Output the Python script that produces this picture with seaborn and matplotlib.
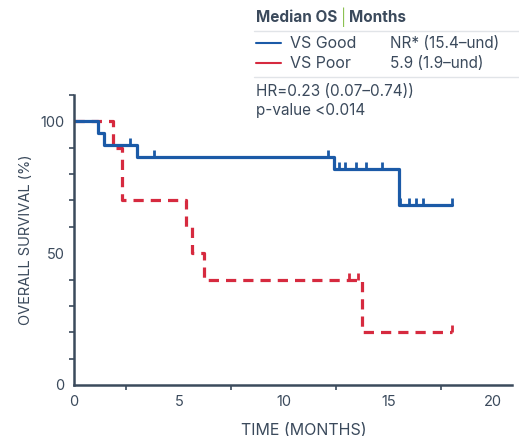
import numpy as np
import pandas as pd
import seaborn as sns
import matplotlib.pyplot as plt
from matplotlib.ticker import MultipleLocator

# KM step data
good_time = [0, 1.13, 1.45, 2.99, 12.4, 15.5, 18.05]
good_surv = [100, 95.5, 91.0, 86.5, 82.0, 68.3, 68.3]
good_cens = [2.67, 3.8, 12.1, 12.62, 12.94, 13.46, 13.92, 14.69,
             15.56, 15.96, 16.32, 16.64, 18.05]

poor_time = [0, 1.88, 2.3, 5.33, 5.62, 6.2, 13.76, 18.05]
poor_surv = [100, 90.0, 70.0, 60.0, 50.0, 40.0, 20.0, 20.0]
poor_cens = [13.14, 13.57, 18.05]

legend_names = ["VS Good", "VS Poor"]
legend_medians = ["NR* (15.4\u2013und)", "5.9 (1.9\u2013und)"]
hr_text = "HR=0.23 (0.07\u20130.74))"
p_text = "p-value <0.014"

BLUE = "#1b5aa7"
RED = "#d62a3f"
INK = "#3b4a5c"

sns.set_theme(style="white")
plt.rcParams["font.family"] = ["Inter", "DejaVu Sans"]

fig = plt.figure(figsize=(5.19, 4.36), dpi=100)
ax = fig.add_axes([0.1426, 0.117, 0.844, 0.665])


def surv_at(times, surv, t):
    i = np.searchsorted(times, t, side="right") - 1
    return np.array(surv)[i]


poor = pd.DataFrame({"t": poor_time, "s": poor_surv})
good = pd.DataFrame({"t": good_time, "s": good_surv})

sns.lineplot(data=poor, x="t", y="s", drawstyle="steps-post", estimator=None,
             sort=False, color=RED, lw=2.3, ax=ax,
             linestyle=(0, (3.2, 2.2)))
sns.lineplot(data=good, x="t", y="s", drawstyle="steps-post", estimator=None,
             sort=False, color=BLUE, lw=2.3, ax=ax)

ax.plot(good_cens, surv_at(good_time, good_surv, good_cens), linestyle="none",
        marker=2, markersize=5, mew=2, color=BLUE)
ax.plot(poor_cens, surv_at(poor_time, poor_surv, poor_cens), linestyle="none",
        marker=2, markersize=5, mew=2, color=RED)

ax.set_xlim(0, 20.9)
ax.set_ylim(0, 110)
ax.set_xticks([0, 5, 10, 15, 20])
ax.set_yticks([0, 50, 100])
ax.xaxis.set_minor_locator(MultipleLocator(2.5))
ax.yaxis.set_minor_locator(MultipleLocator(10))
ax.tick_params(which="both", direction="out", color=INK, labelcolor=INK,
               labelsize=10.5, width=1.2)
ax.tick_params(which="major", length=5, pad=2)
ax.tick_params(which="minor", length=3.5)
ax.tick_params(axis="x", which="minor", bottom=True)
ax.tick_params(axis="y", which="minor", left=True)
for side in ["top", "right"]:
    ax.spines[side].set_visible(False)
for side in ["left", "bottom"]:
    ax.spines[side].set_color(INK)
    ax.spines[side].set_linewidth(1.8)

ax.set_xlabel("TIME (MONTHS)", color=INK, fontsize=11.5)
ax.xaxis.set_label_coords(0.525, -0.13)
ax.set_ylabel("OVERALL SURVIVAL (%)", color=INK, fontsize=10.5, labelpad=5)

# legend block, top right
fig.text(256 / 519, 1 - 17 / 436, "Median OS", fontsize=11, fontweight="bold",
         color=INK, va="center")
fig.text(341 / 519, 1 - 17 / 436, "|", fontsize=11, color="#8cc152", va="center")
fig.text(349 / 519, 1 - 17 / 436, "Months", fontsize=11, fontweight="bold",
         color=INK, va="center")
fig.add_artist(plt.Line2D([254 / 519, 1], [1 - 31 / 436] * 2, color="#e1e4e8", lw=1))
fig.add_artist(plt.Line2D([254 / 519, 1], [1 - 77 / 436] * 2, color="#e1e4e8", lw=1))
for k, (name, med, col) in enumerate(zip(legend_names, legend_medians, [BLUE, RED])):
    y = 1 - (43 + 20 * k) / 436
    fig.add_artist(plt.Line2D([256 / 519, 281 / 519], [y, y], color=col, lw=1.5))
    fig.text(290 / 519, y, name, fontsize=11.5, color=INK, va="center")
    fig.text(390 / 519, y, med, fontsize=11, color=INK, va="center")
fig.text(256 / 519, 1 - 91 / 436, hr_text, fontsize=11, color=INK, va="center")
fig.text(256 / 519, 1 - 110 / 436, p_text, fontsize=11, color=INK, va="center")

fig.savefig("out.png", dpi=100)
